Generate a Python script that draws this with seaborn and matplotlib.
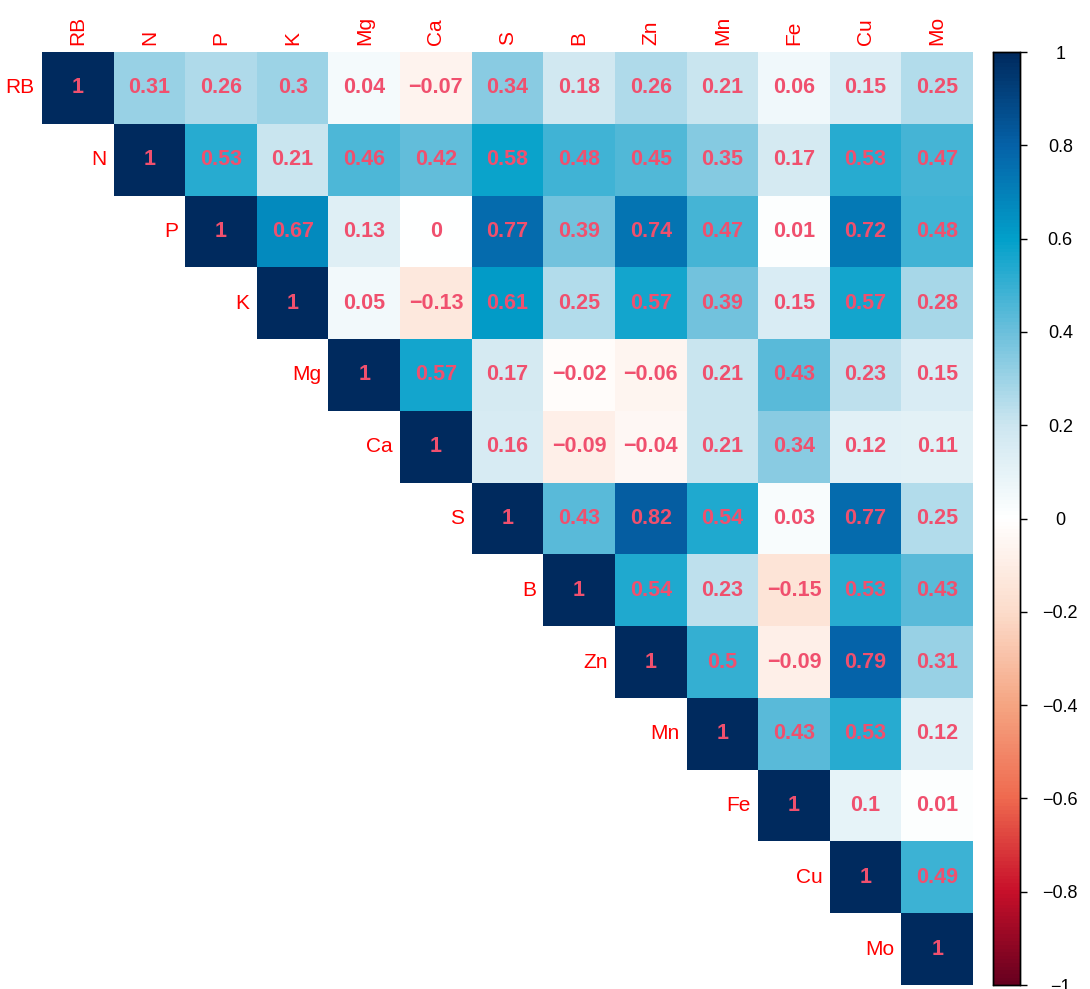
import numpy as np
import pandas as pd
import matplotlib
matplotlib.use("Agg")
import matplotlib.pyplot as plt
import seaborn as sns
from matplotlib.colors import LinearSegmentedColormap

# 變數名稱
names = ["RB", "N", "P", "K", "Mg", "Ca", "S", "B", "Zn", "Mn", "Fe", "Cu", "Mo"]

# 上三角相關係數 (每列從對角線開始)
r_RB = [1, 0.31, 0.26, 0.3, 0.04, -0.07, 0.34, 0.18, 0.26, 0.21, 0.06, 0.15, 0.25]
r_N = [1, 0.53, 0.21, 0.46, 0.42, 0.58, 0.48, 0.45, 0.35, 0.17, 0.53, 0.47]
r_P = [1, 0.67, 0.13, 0, 0.77, 0.39, 0.74, 0.47, 0.01, 0.72, 0.48]
r_K = [1, 0.05, -0.13, 0.61, 0.25, 0.57, 0.39, 0.15, 0.57, 0.28]
r_Mg = [1, 0.57, 0.17, -0.02, -0.06, 0.21, 0.43, 0.23, 0.15]
r_Ca = [1, 0.16, -0.09, -0.04, 0.21, 0.34, 0.12, 0.11]
r_S = [1, 0.43, 0.82, 0.54, 0.03, 0.77, 0.25]
r_B = [1, 0.54, 0.23, -0.15, 0.53, 0.43]
r_Zn = [1, 0.5, -0.09, 0.79, 0.31]
r_Mn = [1, 0.43, 0.53, 0.12]
r_Fe = [1, 0.1, 0.01]
r_Cu = [1, 0.49]
r_Mo = [1]

rows = [r_RB, r_N, r_P, r_K, r_Mg, r_Ca, r_S, r_B, r_Zn, r_Mn, r_Fe, r_Cu, r_Mo]

# 色條刻度
cbar_ticks = [-1, -0.8, -0.6, -0.4, -0.2, 0, 0.2, 0.4, 0.6, 0.8, 1]

n = len(names)
mat = np.full((n, n), np.nan)
for i, r in enumerate(rows):
    mat[i, i:] = r
df = pd.DataFrame(mat, index=names, columns=names)
mask = np.isnan(mat)

def fmt(v):
    if np.isnan(v):
        return ""
    return f"{v:g}".replace("-", "\u2212")

annot = np.vectorize(fmt)(mat)

cmap = LinearSegmentedColormap.from_list("corr", [
    "#67001F", "#C8102A", "#EF6A4F", "#F5A582", "#FCDCCB", "#FFFFFF",
    "#CDE6F0", "#6CC0DC", "#02A0CA", "#0562A8", "#002A5E"])

plt.rcParams["font.family"] = ["Liberation Sans", "DejaVu Sans"]
fig = plt.figure(figsize=(10.9, 9.89), dpi=100)
W, H = 1090, 989
ax = fig.add_axes([42 / W, 1 - 985 / H, (973 - 42) / W, (985 - 52) / H])
cax = fig.add_axes([993 / W, 1 - 985 / H, 27 / W, (985 - 52) / H])

sns.heatmap(df, mask=mask, cmap=cmap, vmin=-1, vmax=1, annot=annot, fmt="",
            annot_kws={"color": "#F0506E", "fontsize": 15.5, "fontweight": "bold"},
            cbar_ax=cax, ax=ax, square=False)

# 欄標籤放上方
ax.xaxis.tick_top()
ax.set_xticks(np.arange(n) + 0.5)
ax.set_xticklabels(names, rotation=90, color="red", fontsize=15)
ax.tick_params(axis="x", length=0, pad=5)
ax.set_yticks([])
ax.set_xlabel("")
ax.set_ylabel("")

# 列標籤放對角線左側
for i, nm in enumerate(names):
    ax.text(i - 0.1, i + 0.5, nm, ha="right", va="center", color="red", fontsize=15)

# 色條
cax.set_yticks(cbar_ticks)
cax.set_yticklabels([fmt(v) for v in cbar_ticks], fontsize=13)
cax.tick_params(axis="y", length=5, width=1, pad=24)
for lab in cax.get_yticklabels():
    lab.set_horizontalalignment("center")
for s in cax.spines.values():
    s.set_visible(True)
    s.set_color("black")
    s.set_linewidth(1)

fig.savefig("out.png", dpi=100)
